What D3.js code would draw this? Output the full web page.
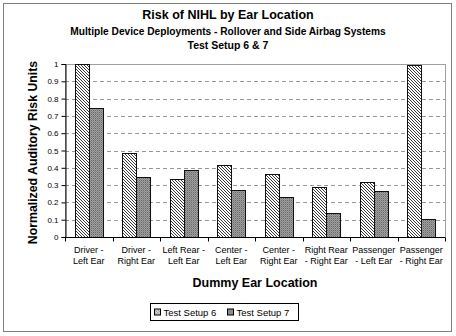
<!DOCTYPE html>
<html>
<head>
<meta charset="utf-8">
<script src="https://cdn.jsdelivr.net/npm/d3@7"></script>
<style>
  body { margin: 0; background: #fff; }
  text { font-family: Arial, "Liberation Sans", sans-serif; }
</style>
</head>
<body>
<svg id="chart" width="456" height="336"></svg>
<script>
// chart data
const categories = [
  ['Driver -', 'Left Ear'],
  ['Driver -', 'Right Ear'],
  ['Left Rear -', 'Left Ear'],
  ['Center -', 'Left Ear'],
  ['Center -', 'Right Ear'],
  ['Right Rear', '- Right Ear'],
  ['Passenger', '- Left Ear'],
  ['Passenger', '- Right Ear']
];
const setup6 = [1.0, 0.484, 0.335, 0.418, 0.362, 0.289, 0.318, 0.994];
const setup7 = [0.744, 0.349, 0.387, 0.272, 0.229, 0.137, 0.266, 0.106];
const seriesNames = ['Test Setup 6', 'Test Setup 7'];
const yTicks = [0, 0.1, 0.2, 0.3, 0.4, 0.5, 0.6, 0.7, 0.8, 0.9, 1];

const svg = d3.select('#chart');
const margin = { top: 64, left: 65, right: 11, bottom: 99 };
const width = 456, height = 336;
const innerW = width - margin.left - margin.right;
const innerH = height - margin.top - margin.bottom;

// patterns
const defs = svg.append('defs');
const hatch = defs.append('pattern')
  .attr('id', 'hatch')
  .attr('patternUnits', 'userSpaceOnUse')
  .attr('width', 3).attr('height', 3);
hatch.append('rect').attr('width', 3).attr('height', 3).attr('fill', '#fff');
hatch.append('path')
  .attr('d', 'M-1,-1 L4,4 M-1,2 L1,4 M2,-1 L4,1')
  .attr('stroke', '#222').attr('stroke-width', 0.9);

const dots = defs.append('pattern')
  .attr('id', 'dots')
  .attr('patternUnits', 'userSpaceOnUse')
  .attr('width', 2).attr('height', 2);
dots.append('rect').attr('width', 2).attr('height', 2).attr('fill', '#a0a0a0');
dots.append('rect').attr('width', 1).attr('height', 1).attr('fill', '#666');
dots.append('rect').attr('x', 1).attr('y', 1).attr('width', 1).attr('height', 1).attr('fill', '#888');

const fills = ['url(#hatch)', 'url(#dots)'];

// outer frame
svg.append('rect')
  .attr('x', 3.5).attr('y', 3.5)
  .attr('width', 448).attr('height', 328)
  .attr('fill', '#fff')
  .attr('stroke', '#808080').attr('stroke-width', 1);

// titles
svg.append('text').attr('x', 228).attr('y', 19)
  .attr('text-anchor', 'middle').attr('font-size', 12.5).attr('font-weight', 'bold')
  .text('Risk of NIHL by Ear Location');
svg.append('text').attr('x', 228).attr('y', 35)
  .attr('text-anchor', 'middle').attr('font-size', 10.2).attr('font-weight', 'bold')
  .text('Multiple Device Deployments - Rollover and Side Airbag Systems');
svg.append('text').attr('x', 228).attr('y', 49)
  .attr('text-anchor', 'middle').attr('font-size', 10.5).attr('font-weight', 'bold')
  .text('Test Setup 6 & 7');

const g = svg.append('g')
  .attr('transform', `translate(${margin.left},${margin.top})`);

const x = d3.scaleBand()
  .domain(d3.range(categories.length))
  .range([0, innerW])
  .paddingInner(0.41).paddingOuter(0.205);
const xSub = d3.scaleBand()
  .domain([0, 1])
  .range([0, x.bandwidth()]);
const y = d3.scaleLinear().domain([0, 1]).range([innerH, 0]);

// plot area border
g.append('rect')
  .attr('x', 0.5).attr('y', 0.5)
  .attr('width', innerW).attr('height', innerH)
  .attr('fill', 'none').attr('stroke', '#a0a0a0');

// gridlines
g.append('g')
  .selectAll('line')
  .data(yTicks.filter(t => t > 0 && t < 1))
  .join('line')
  .attr('x1', 0).attr('x2', innerW)
  .attr('y1', d => Math.round(y(d)) + 0.5)
  .attr('y2', d => Math.round(y(d)) + 0.5)
  .attr('stroke', '#999').attr('stroke-dasharray', '4,3');

// bars
const series = [setup6, setup7];
series.forEach((vals, si) => {
  g.append('g')
    .selectAll('rect')
    .data(vals)
    .join('rect')
    .attr('x', (d, i) => Math.round(x(i) + xSub(si)) + 0.5)
    .attr('y', d => Math.round(y(d)) + 0.5)
    .attr('width', xSub.bandwidth())
    .attr('height', d => innerH - Math.round(y(d)))
    .attr('fill', fills[si])
    .attr('stroke', '#111').attr('stroke-width', 1);
});

// y axis
const yAxis = g.append('g')
  .attr('transform', 'translate(0.5,0)')
  .call(d3.axisLeft(y).tickValues(yTicks).tickSize(4).tickFormat(d => d3.format('')(+d.toFixed(1))));
yAxis.select('.domain').attr('stroke', '#000');
yAxis.selectAll('.tick line').attr('stroke', '#000');
yAxis.selectAll('.tick text').attr('font-size', 8).attr('fill', '#000').attr('x', -7);

// x axis with ticks at category boundaries
const step = innerW / categories.length;
const xAxis = g.append('g').attr('transform', `translate(0,${innerH + 0.5})`);
xAxis.append('line').attr('x1', 0).attr('x2', innerW).attr('stroke', '#000');
xAxis.selectAll('line.tk')
  .data(d3.range(categories.length + 1))
  .join('line')
  .attr('class', 'tk')
  .attr('x1', i => Math.round(i * step) + 0.5)
  .attr('x2', i => Math.round(i * step) + 0.5)
  .attr('y1', 0).attr('y2', 4)
  .attr('stroke', '#000');
const labels = xAxis.selectAll('text.cat')
  .data(categories)
  .join('text')
  .attr('class', 'cat')
  .attr('text-anchor', 'middle')
  .attr('font-size', 9)
  .attr('transform', (d, i) => `translate(${x(i) + x.bandwidth() / 2},0)`);
labels.selectAll('tspan')
  .data(d => d)
  .join('tspan')
  .attr('x', 0)
  .attr('y', (d, j) => 15 + j * 11)
  .text(d => d);

// axis titles
svg.append('text')
  .attr('transform', `translate(37,${margin.top + innerH / 2 + 2}) rotate(-90)`)
  .attr('text-anchor', 'middle').attr('font-size', 12.3).attr('font-weight', 'bold')
  .text('Normalized Auditory Risk Units');
svg.append('text')
  .attr('x', margin.left + innerW / 2).attr('y', 287)
  .attr('text-anchor', 'middle').attr('font-size', 12.5).attr('font-weight', 'bold')
  .text('Dummy Ear Location');

// legend
const legend = svg.append('g').attr('transform', 'translate(150.5,303.5)');
legend.append('rect')
  .attr('width', 148).attr('height', 17)
  .attr('fill', '#fff').attr('stroke', '#000');
const items = legend.selectAll('g.item')
  .data(seriesNames)
  .join('g')
  .attr('class', 'item')
  .attr('transform', (d, i) => `translate(${4 + i * 73},0)`);
items.append('rect')
  .attr('x', 0).attr('y', 5.5).attr('width', 6).attr('height', 6)
  .attr('fill', (d, i) => fills[i]).attr('stroke', '#000');
items.append('text')
  .attr('x', 9).attr('y', 12.5)
  .attr('font-size', 9.5)
  .text(d => d);
</script>
</body>
</html>
